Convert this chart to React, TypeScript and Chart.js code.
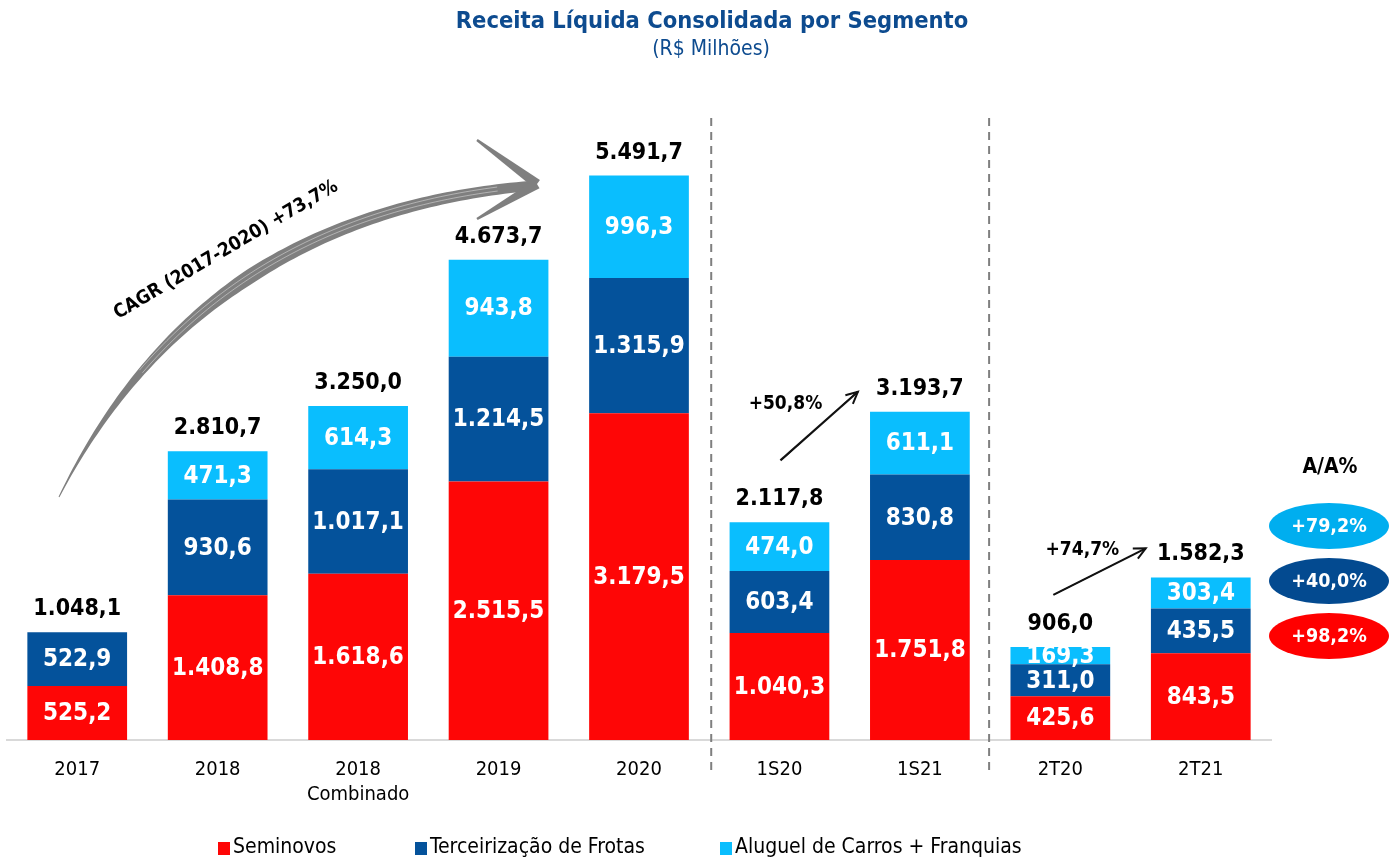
import React, { useEffect, useRef } from 'react';
import { Chart, registerables } from 'chart.js';

Chart.register(...registerables);

// ---------- DATA ----------
const categories: string[][] = [['2017'], ['2018'], ['2018', 'Combinado'], ['2019'], ['2020'], ['1S20'], ['1S21'], ['2T20'], ['2T21']];
const seminovos = [525.2, 1408.8, 1618.6, 2515.5, 3179.5, 1040.3, 1751.8, 425.6, 843.5];
const terceirizacao = [522.9, 930.6, 1017.1, 1214.5, 1315.9, 603.4, 830.8, 311.0, 435.5];
const aluguel: (number | null)[] = [null, 471.3, 614.3, 943.8, 996.3, 474.0, 611.1, 169.3, 303.4];
const totals = [1048.1, 2810.7, 3250.0, 4673.7, 5491.7, 2117.8, 3193.7, 906.0, 1582.3];
const seriesNames = ['Seminovos', 'Terceirização de Frotas', 'Aluguel de Carros + Franquias'];
const growthHeader = 'A/A%';
const growthAluguel = '+79,2%';
const growthTerceirizacao = '+40,0%';
const growthSeminovos = '+98,2%';
const cagrLabel = 'CAGR (2017-2020) +73,7%';
const semesterGrowth = '+50,8%';
const quarterGrowth = '+74,7%';
const titleText = 'Receita Líquida Consolidada por Segmento';
const subtitleText = '(R$ Milhões)';

// ---------- STYLE ----------
const F = '"DejaVu Sans Condensed", "DejaVu Sans", sans-serif';
const RED = '#FE0606';
const DARK = '#04529B';
const LIGHT = '#0ABEFE';
const TITLE_BLUE = '#0D4B8F';

const fmt = (v: number) =>
  v.toLocaleString('pt-BR', { minimumFractionDigits: 1, maximumFractionDigits: 1 });

function drawArrowLine(ctx: CanvasRenderingContext2D, x0: number, y0: number, x1: number, y1: number) {
  ctx.save();
  ctx.strokeStyle = '#111';
  ctx.lineWidth = 2.2;
  ctx.beginPath();
  ctx.moveTo(x0, y0);
  ctx.lineTo(x1, y1);
  ctx.stroke();
  ctx.lineWidth = 1;
  ctx.beginPath();
  ctx.moveTo(x0 + 2, y0 - 1);
  ctx.lineTo(x1 - 2, y1 + 1);
  ctx.stroke();
  ctx.lineWidth = 2;
  const a = Math.atan2(y1 - y0, x1 - x0);
  const hl = 13;
  ctx.beginPath();
  ctx.moveTo(x1 - hl * Math.cos(a - 0.45), y1 - hl * Math.sin(a - 0.45));
  ctx.lineTo(x1, y1);
  ctx.lineTo(x1 - hl * Math.cos(a + 0.45), y1 - hl * Math.sin(a + 0.45));
  ctx.stroke();
  ctx.restore();
}

function taperedSegment(ctx: CanvasRenderingContext2D, x0: number, y0: number, w0: number, x1: number, y1: number, w1: number) {
  const dx = x1 - x0, dy = y1 - y0;
  const len = Math.hypot(dx, dy);
  const nx = -dy / len, ny = dx / len;
  ctx.beginPath();
  ctx.moveTo(x0 + nx * w0, y0 + ny * w0);
  ctx.lineTo(x1 + nx * w1, y1 + ny * w1);
  ctx.lineTo(x1 - nx * w1, y1 - ny * w1);
  ctx.lineTo(x0 - nx * w0, y0 - ny * w0);
  ctx.closePath();
  ctx.fill();
}

function drawBrushArrow(ctx: CanvasRenderingContext2D) {
  const P0 = { x: 59, y: 497 }, C = { x: 200, y: 215 }, P1 = { x: 530, y: 186 };
  const N = 100;
  const pt = (t: number) => {
    const u = 1 - t;
    return {
      x: u * u * P0.x + 2 * u * t * C.x + t * t * P1.x,
      y: u * u * P0.y + 2 * u * t * C.y + t * t * P1.y,
      dx: 2 * u * (C.x - P0.x) + 2 * t * (P1.x - C.x),
      dy: 2 * u * (C.y - P0.y) + 2 * t * (P1.y - C.y),
    };
  };
  const L: number[][] = [], R: number[][] = [];
  for (let i = 0; i <= N; i++) {
    const t = i / N;
    const p = pt(t);
    const len = Math.hypot(p.dx, p.dy);
    const nx = -p.dy / len, ny = p.dx / len;
    const w = t < 0.5 ? 0.5 + 6.8 * (t / 0.5) : 7.3 - 2.3 * ((t - 0.5) / 0.5);
    L.push([p.x + nx * w, p.y + ny * w]);
    R.push([p.x - nx * w, p.y - ny * w]);
  }
  ctx.save();
  ctx.fillStyle = '#7F7F7F';
  ctx.beginPath();
  ctx.moveTo(L[0][0], L[0][1]);
  for (const p of L) ctx.lineTo(p[0], p[1]);
  for (let i = R.length - 1; i >= 0; i--) ctx.lineTo(R[i][0], R[i][1]);
  ctx.closePath();
  ctx.fill();
  // arrow head barbs
  taperedSegment(ctx, 477, 140, 1.2, 537, 184, 5);
  taperedSegment(ctx, 537, 184, 5, 477, 219, 1.2);
  // brush streaks
  ctx.strokeStyle = 'rgba(255,255,255,0.4)';
  ctx.lineWidth = 1;
  for (const off of [-2.5, 1.5]) {
    ctx.beginPath();
    for (let i = 25; i <= 95; i++) {
      const p = pt(i / N);
      const len = Math.hypot(p.dx, p.dy);
      const nx = -p.dy / len, ny = p.dx / len;
      const x = p.x + nx * off, y = p.y + ny * off;
      if (i === 25) ctx.moveTo(x, y); else ctx.lineTo(x, y);
    }
    ctx.stroke();
  }
  ctx.restore();
}

const decorPlugin = {
  id: 'decor',
  afterDraw(chart: any) {
    const ctx: CanvasRenderingContext2D = chart.ctx;
    const xs = chart.scales.x;
    const ys = chart.scales.y;
    ctx.save();

    // Title
    ctx.textAlign = 'center';
    ctx.textBaseline = 'middle';
    ctx.fillStyle = TITLE_BLUE;
    ctx.font = `bold 23.5px ${F}`;
    ctx.fillText(titleText, 712, 22);
    ctx.font = `21px ${F}`;
    ctx.fillText(subtitleText, 711, 50);

    // Dashed separators
    ctx.strokeStyle = '#7F7F7F';
    ctx.lineWidth = 2;
    ctx.setLineDash([8, 6]);
    const sep1 = (xs.getPixelForValue(4) + xs.getPixelForValue(5)) / 2 + 2;
    const sep2 = (xs.getPixelForValue(6) + xs.getPixelForValue(7)) / 2 - 1;
    for (const sx of [sep1, sep2]) {
      ctx.beginPath();
      ctx.moveTo(sx, 118);
      ctx.lineTo(sx, 772);
      ctx.stroke();
    }
    ctx.setLineDash([]);

    // Data labels inside segments
    ctx.font = `bold 24px ${F}`;
    ctx.fillStyle = '#FFFFFF';
    chart.data.datasets.forEach((ds: any, di: number) => {
      const meta = chart.getDatasetMeta(di);
      meta.data.forEach((el: any, i: number) => {
        const v = ds.data[i];
        if (v == null) return;
        const cy = (el.y + el.base) / 2;
        ctx.fillText(fmt(v), el.x, cy + 1);
      });
    });

    // Totals
    ctx.fillStyle = '#000000';
    ctx.font = `bold 23px ${F}`;
    totals.forEach((t, i) => {
      const x = xs.getPixelForValue(i);
      const y = ys.getPixelForValue(t);
      ctx.fillText(fmt(t), x, y - 23);
    });

    // CAGR arrow and label
    drawBrushArrow(ctx);
    ctx.save();
    ctx.translate(226, 250);
    ctx.rotate(-30.5 * Math.PI / 180);
    ctx.fillStyle = '#000';
    ctx.font = `bold 19px ${F}`;
    ctx.fillText(cagrLabel, 0, 0);
    ctx.restore();

    // Period growth arrows
    const x5 = xs.getPixelForValue(5), x6 = xs.getPixelForValue(6);
    const x7 = xs.getPixelForValue(7), x8 = xs.getPixelForValue(8);
    drawArrowLine(ctx, x5 + 1, ys.getPixelForValue(totals[5]) - 62, x6 - 62, ys.getPixelForValue(totals[6]) - 20);
    drawArrowLine(ctx, x7 - 7, ys.getPixelForValue(totals[7]) - 52, x8 - 55, ys.getPixelForValue(totals[8]) - 29);
    ctx.fillStyle = '#000';
    ctx.font = `bold 19px ${F}`;
    ctx.fillText(semesterGrowth, x5 + 6, 404);
    ctx.fillText(quarterGrowth, x7 + 22, 550);

    // A/A% ellipses
    const ex = 1329;
    ctx.font = `bold 21px ${F}`;
    ctx.fillText(growthHeader, ex + 1, 468);
    ctx.font = `bold 19.5px ${F}`;
    const ell: [string, string, number][] = [
      ['#00AEEF', growthAluguel, 526],
      ['#034A90', growthTerceirizacao, 581],
      ['#FF0000', growthSeminovos, 636],
    ];
    ell.forEach(([c, txt, y]) => {
      ctx.fillStyle = c;
      ctx.beginPath();
      ctx.ellipse(ex, y, 60, 23, 0, 0, Math.PI * 2);
      ctx.fill();
      ctx.fillStyle = '#FFFFFF';
      ctx.fillText(txt, ex, y + 1);
    });

    // Legend
    const legendX = [218, 415, 720];
    const legendColors = [RED, DARK, LIGHT];
    ctx.textAlign = 'left';
    ctx.font = `21px ${F}`;
    seriesNames.forEach((n, i) => {
      ctx.fillStyle = legendColors[i];
      ctx.fillRect(legendX[i], 842, 12, 13);
      ctx.fillStyle = '#000';
      ctx.fillText(n, legendX[i] + 15, 848);
    });

    ctx.restore();
  },
};

export default function App() {
  const ref = useRef<HTMLCanvasElement>(null);
  useEffect(() => {
    if (!ref.current) return;
    Chart.defaults.font.family = F;
    const chart = new Chart(ref.current, {
      type: 'bar',
      data: {
        labels: categories,
        datasets: [
          { label: seriesNames[0], data: seminovos, backgroundColor: RED, borderWidth: 0 },
          { label: seriesNames[1], data: terceirizacao, backgroundColor: DARK, borderWidth: 0 },
          { label: seriesNames[2], data: aluguel, backgroundColor: LIGHT, borderWidth: 0 },
        ],
      },
      options: {
        animation: false,
        responsive: false,
        events: [],
        layout: { padding: { left: 7, right: 124, top: 72, bottom: 35 } },
        datasets: { bar: { barPercentage: 0.71, categoryPercentage: 1.0 } },
        plugins: { legend: { display: false }, title: { display: false }, tooltip: { enabled: false } },
        scales: {
          x: {
            stacked: true,
            grid: { display: false, drawTicks: false },
            border: { display: true, color: '#D9D9D9', width: 2 },
            ticks: {
              color: '#000',
              font: { family: F, size: 20, lineHeight: 1.25 },
              padding: 17,
              maxRotation: 0,
              autoSkip: false,
            },
          },
          y: { stacked: true, display: false, min: 0, max: 6500 },
        },
      },
      plugins: [decorPlugin],
    } as any);
    return () => chart.destroy();
  }, []);
  return (
    <div style={{ position: 'fixed', left: 0, top: 0, width: 1395, height: 859, background: '#fff' }}>
      <canvas ref={ref} width={1395} height={859} style={{ display: 'block' }} />
    </div>
  );
}
